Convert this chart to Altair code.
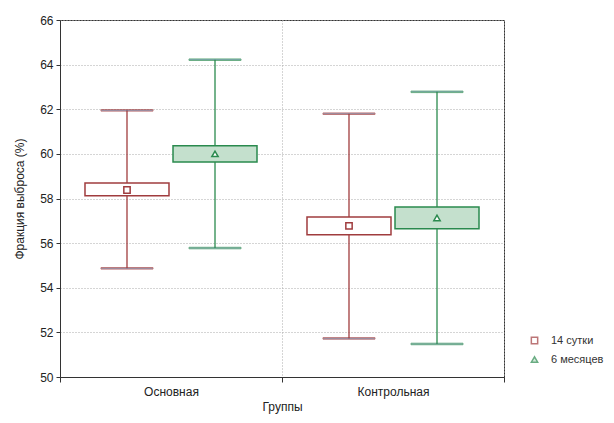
import altair as alt
import pandas as pd

groups = ["Основная", "Основная", "Контрольная", "Контрольная"]
series = ["14 сутки", "6 месяцев", "14 сутки", "6 месяцев"]
means = [58.38, 60.0, 56.77, 57.13]
box_low = [58.12, 59.64, 56.37, 56.64]
box_high = [58.70, 60.36, 57.17, 57.62]
whisk_low = [54.87, 55.78, 51.73, 51.48]
whisk_high = [61.95, 64.22, 61.80, 62.78]

group_order = ["Основная", "Контрольная"]
series_order = ["14 сутки", "6 месяцев"]
line_colors = ["#a03c3e", "#2a8a4e"]
fill_colors = ["#ffffff", "#c4e0cd"]

df = pd.DataFrame({
    "group": groups, "series": series, "fillkey": series, "mean": means,
    "lo": box_low, "hi": box_high, "wlo": whisk_low, "whi": whisk_high,
})

FONT = "Liberation Sans"

x_enc = alt.X("group:N", sort=group_order, title="Группы",
              scale=alt.Scale(paddingInner=0, paddingOuter=0),
              axis=alt.Axis(labelAngle=0, tickBand="extent", grid=True,
                            gridDash=[1, 2], gridColor="#aaaaaa",
                            labelPadding=4, titlePadding=4))
xo_enc = alt.XOffset("series:N", sort=series_order,
                     scale=alt.Scale(paddingInner=0.0455, paddingOuter=0.284))
y_scale = alt.Scale(domain=[50, 66], nice=False, zero=False)
stroke_enc = alt.Stroke("series:N", sort=series_order,
                        scale=alt.Scale(domain=series_order, range=line_colors),
                        legend=alt.Legend(title=None, orient="none", legendX=469, legendY=315,
                                          labelFontSize=11, labelFont=FONT, labelColor="#333333",
                                          symbolSize=40, symbolStrokeWidth=1.5,
                                          symbolFillColor="white",
                                          rowPadding=6, labelOffset=11))
shape_enc = alt.Shape("series:N", sort=series_order,
                      scale=alt.Scale(domain=series_order, range=["square", "triangle-up"]))

base = alt.Chart(df)

whisk = base.mark_rule(strokeWidth=1.3).encode(
    x=x_enc, xOffset=xo_enc,
    y=alt.Y("wlo:Q", scale=y_scale, title="Фракция выброса (%)",
            axis=alt.Axis(values=list(range(50, 67, 2)), gridDash=[1, 2],
                          gridColor="#aaaaaa", tickSize=4, labelPadding=3,
                          titlePadding=13)),
    y2="whi:Q", stroke=stroke_enc)

cap_lo = base.mark_tick(size=52, thickness=1.5).encode(
    x=x_enc, xOffset=xo_enc, y=alt.Y("wlo:Q", scale=y_scale), stroke=stroke_enc)
cap_hi = base.mark_tick(size=52, thickness=1.5).encode(
    x=x_enc, xOffset=xo_enc, y=alt.Y("whi:Q", scale=y_scale), stroke=stroke_enc)

box = base.mark_bar(strokeWidth=1.5, width=84).encode(
    x=x_enc, xOffset=xo_enc,
    y=alt.Y("lo:Q", scale=y_scale), y2="hi:Q",
    stroke=stroke_enc,
    fill=alt.Fill("fillkey:N", sort=series_order,
                  scale=alt.Scale(domain=series_order, range=fill_colors), legend=None))

pts = base.mark_point(filled=False, fill="white", size=40, strokeWidth=1.5, opacity=1).encode(
    x=x_enc, xOffset=xo_enc,
    y=alt.Y("mean:Q", scale=y_scale),
    stroke=stroke_enc, shape=shape_enc)

chart = alt.layer(whisk, cap_lo, cap_hi, box, pts).properties(
    width=444, height=357,
    autosize=alt.AutoSizeParams(type="none"),
    padding={"left": 52, "top": 12, "right": 102, "bottom": 38},
).configure(
    background="white"
).configure_view(
    stroke="#333333", strokeWidth=1
).configure_axis(
    labelFont=FONT, titleFont=FONT, labelFontSize=12, titleFontSize=12,
    labelColor="#222222", titleColor="#222222", titleFontWeight="normal",
    domainColor="#333333", tickColor="#333333"
)

chart.save("out.html", embed_options={"renderer": "svg", "actions": False})
